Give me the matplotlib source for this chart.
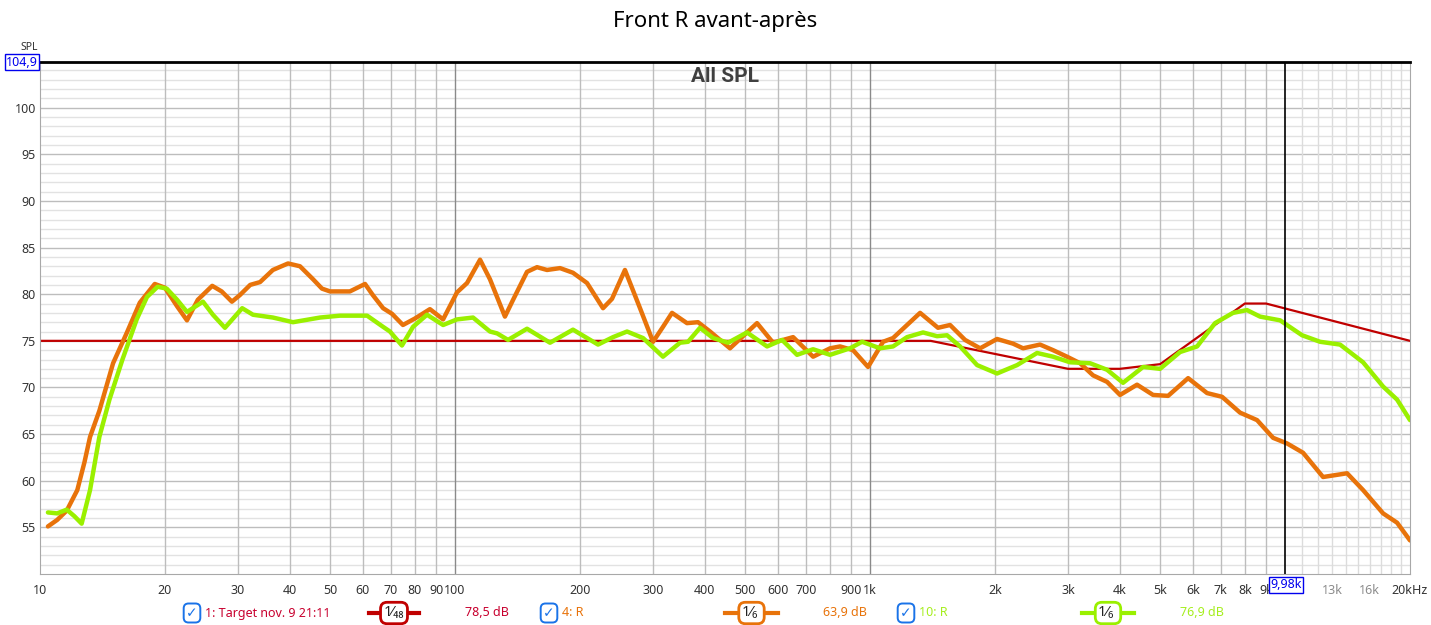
import matplotlib
matplotlib.use("Agg")
import matplotlib.pyplot as plt
from matplotlib.lines import Line2D

plt.rcParams['font.family'] = ['Noto Sans', 'DejaVu Sans']

# target curve (breakpoints)
target_freq = [10, 1400, 3000, 4000, 5000, 8000, 9000, 20000]
target_db = [75, 75, 72, 72, 72.5, 79, 79, 75]

# "4: R" (before) 1/6 oct smoothed
before_freq = [10.45, 11.0, 11.6, 12.3, 12.8, 13.2, 13.9, 15.0, 16.2, 17.4, 18.9, 20.0, 21.4,
               22.6, 24.0, 26.0, 27.4, 29.0, 30.3, 32.1, 33.9, 36.4, 39.6, 42.3, 45.5,
               47.8, 50.0, 55.8, 60.7, 63.4, 67.1, 70.5, 74.9, 80.1, 87.0, 93.6, 101.1,
               106.9, 114.9, 121.4, 131.9, 138.0, 149.1, 157.6, 166.6, 179.1, 192.4, 208.0,
               227.3, 238.9, 256.7, 279.1, 300.0, 317.0, 333.3, 362.2, 385.0, 411.6, 459.8,
               505.2, 534.2, 583.9, 652.6, 729.1, 801.2, 846.8, 910.2, 989.0, 1075, 1136,
               1228, 1320, 1458, 1559, 1694, 1842, 2023, 2211, 2337, 2568, 2761, 2983, 3207,
               3446, 3725, 4003, 4399, 4808, 5226, 5840, 6487, 7050, 7791, 8562, 9357,
               10111, 11050, 12346, 14108, 15417, 17226, 18617, 20000]
before_db = [55.1, 55.8, 56.8, 59.0, 62.0, 64.7, 67.5, 72.6, 75.9, 79.1, 81.1, 80.7, 78.7,
             77.2, 79.4, 80.9, 80.3, 79.2, 79.9, 81.0, 81.3, 82.6, 83.3, 83.0, 81.6,
             80.6, 80.3, 80.3, 81.1, 79.9, 78.5, 77.9, 76.7, 77.4, 78.4, 77.3, 80.2,
             81.2, 83.7, 81.6, 77.6, 79.4, 82.4, 82.9, 82.6, 82.8, 82.3, 81.2,
             78.5, 79.5, 82.6, 78.5, 74.9, 76.5, 78.0, 76.9, 77.0, 76.0, 74.2,
             75.9, 76.9, 74.8, 75.4, 73.3, 74.2, 74.4, 74.0, 72.2, 74.9, 75.3,
             76.7, 78.0, 76.4, 76.7, 75.1, 74.2, 75.2, 74.7, 74.2, 74.6, 74.0, 73.3, 72.6,
             71.3, 70.6, 69.2, 70.3, 69.2, 69.1, 71.0, 69.4, 69.0, 67.3, 66.5, 64.6,
             64.0, 63.0, 60.4, 60.8, 59.0, 56.5, 55.5, 53.6]

# "10: R" (after)
after_freq = [10.45, 11.0, 11.6, 12.1, 12.6, 13.2, 13.9, 14.7, 15.8, 17.1, 18.1, 19.2,
              20.2, 21.4, 22.6, 24.7, 26.1, 27.9, 30.7, 32.6, 36.4, 40.7, 47.3, 52.8,
              61.4, 67.1, 69.7, 74.5, 79.2, 85.6, 93.6, 101.1, 110.5, 121.4, 126.3, 134.2,
              149.1, 169.4, 192.4, 221.1, 240.3, 259.7, 283.8, 317.0, 348.5, 364.3, 389.3,
              418.5, 454.9, 505.2, 564.8, 613.8, 666.9, 729.1, 801.2, 894.7, 956.6, 1057,
              1136, 1228, 1342, 1450, 1533, 1648, 1811, 2023, 2261, 2526, 2761, 3034, 3389,
              3725, 4070, 4549, 4998, 5584, 6138, 6781, 7492, 8095, 8704, 9727, 10989,
              12144, 13568, 15417, 17226, 18617, 20000]
after_db = [56.6, 56.5, 56.9, 56.2, 55.4, 59.0, 64.7, 68.7, 73.0, 77.3, 79.7, 80.8,
            80.6, 79.4, 78.1, 79.2, 77.8, 76.4, 78.5, 77.8, 77.5, 77.0, 77.5, 77.7,
            77.7, 76.5, 76.0, 74.5, 76.5, 77.8, 76.7, 77.3, 77.5, 76.0, 75.8, 75.1,
            76.3, 74.8, 76.2, 74.6, 75.4, 76.0, 75.3, 73.3, 74.8, 74.9, 76.4,
            75.3, 74.8, 75.9, 74.4, 75.1, 73.5, 74.1, 73.5, 74.2, 74.9, 74.2,
            74.4, 75.4, 75.9, 75.5, 75.6, 74.4, 72.4, 71.5, 72.4, 73.7, 73.3, 72.7, 72.6,
            71.9, 70.5, 72.2, 72.0, 73.8, 74.4, 76.9, 78.0, 78.3, 77.6, 77.2, 75.6,
            74.9, 74.6, 72.7, 70.1, 68.7, 66.5]

cursor_freq = 9980
x_ticks = [10, 20, 30, 40, 50, 60, 70, 80, 90, 100, 200, 300, 400, 500, 600, 700, 900,
           1000, 2000, 3000, 4000, 5000, 6000, 7000, 8000, 9000, 13000, 16000, 20000]
x_labels = ['10', '20', '30', '40', '50', '60', '70', '80', '90', '100', '200', '300',
            '400', '500', '600', '700', '900', '1k', '2k', '3k', '4k', '5k', '6k', '7k',
            '8k', '9k', '13k', '16k', '20kHz']
y_ticks = [55, 60, 65, 70, 75, 80, 85, 90, 95, 100]

C_RED = '#c00000'
C_ORANGE = '#e8730a'
C_LIME = '#9af000'

W, H = 1431, 625
def fx(x): return x / W
def fy(y): return 1 - y / H

fig = plt.figure(figsize=(W / 100, H / 100), dpi=100)
ax = fig.add_axes([fx(40), fy(574), 1370 / W, 512 / H])
ax.set_xscale('log')
ax.set_xlim(10, 20000)
ax.set_ylim(50, 104.9)

# grid
for db in range(51, 105):
    ax.axhline(db, color='#bdbdbd' if db % 5 == 0 else '#e2e2e2', lw=1, zorder=0)
for dec in [10, 100, 1000]:
    for m in range(2, 10):
        ax.axvline(dec * m, color='#bdbdbd', lw=1, zorder=0)
for f in [100, 1000]:
    ax.axvline(f, color='#8a8a8a', lw=1, zorder=0.5)
for k in range(11, 20):
    ax.axvline(k * 1000, color='#dcdcdc', lw=1, zorder=0)

ax.plot(target_freq, target_db, color=C_RED, lw=1.6, zorder=2)
ax.plot(before_freq, before_db, color=C_ORANGE, lw=3.2, zorder=3,
        solid_joinstyle='round', solid_capstyle='round')
ax.plot(after_freq, after_db, color=C_LIME, lw=3.2, zorder=4,
        solid_joinstyle='round', solid_capstyle='round')
ax.axvline(cursor_freq, color='black', lw=1.2, zorder=5)

ax.set_xticks(x_ticks)
ax.set_xticklabels(x_labels)
ax.minorticks_off()
ax.set_yticks(y_ticks)
ax.tick_params(length=0, labelsize=9, labelcolor='#333333')
ax.tick_params(axis='x', pad=7)
ax.tick_params(axis='y', pad=3)
for lab in ax.get_xticklabels():
    if lab.get_text() in ('13k', '16k'):
        lab.set_color('#8c8c8c')

for s in ['left', 'right', 'bottom']:
    ax.spines[s].set_color('#a8a8a8')
ax.spines['top'].set_color('black')
ax.spines['top'].set_linewidth(2)

fig.text(0.5, fy(22), 'Front R avant-après', ha='center', va='center', fontsize=16)
fig.text(fx(725), fy(76), 'All SPL', ha='center', va='center', fontsize=15,
         fontweight='bold', color='#404040', family=['Roboto', 'DejaVu Sans'])
fig.text(fx(29), fy(47), 'SPL', ha='center', va='center', fontsize=7.5, color='#333333')
fig.text(fx(22), fy(62), '104,9', ha='center', va='center', fontsize=9, color='#0000ee',
         bbox=dict(boxstyle='square,pad=0.12', fc='white', ec='#0000ee', lw=1))
fig.text(fx(1286), fy(585), '9,98k', ha='center', va='center', fontsize=9, color='#0000ee',
         bbox=dict(boxstyle='square,pad=0.12', fc='white', ec='#0000ee', lw=1), zorder=10)

# legend row
ly = 613
def checkbox(x):
    fig.text(fx(x), fy(ly), '✓', ha='center', va='center', fontsize=10, color='#1a73e8',
             fontweight='bold', family=['DejaVu Sans'],
             bbox=dict(boxstyle='round,pad=0.18,rounding_size=0.35', fc='white',
                       ec='#1a73e8', lw=1.4))

def sample(x0, x1, color, label):
    fig.add_artist(Line2D([fx(x0), fx(x1)], [fy(ly), fy(ly)], color=color, lw=3,
                          transform=fig.transFigure))
    fig.text(fx((x0 + x1) / 2), fy(ly), label, ha='center', va='center', fontsize=10.5,
             color='#222222',
             bbox=dict(boxstyle='round,pad=0.22,rounding_size=0.45', fc='white',
                       ec=color, lw=2))

checkbox(192)
fig.text(fx(205), fy(ly), '1: Target nov. 9 21:11', ha='left', va='center',
         fontsize=9, color='#c8002e')
sample(369, 419, C_RED, '1⁄₄₈')
fig.text(fx(465), fy(ly), '78,5 dB', ha='left', va='center', fontsize=9, color='#c8002e')

checkbox(549)
fig.text(fx(562), fy(ly), '4: R', ha='left', va='center', fontsize=9, color=C_ORANGE)
sample(725, 778, C_ORANGE, '1⁄₆ ')
fig.text(fx(823), fy(ly), '63,9 dB', ha='left', va='center', fontsize=9, color=C_ORANGE)

checkbox(906)
fig.text(fx(919), fy(ly), '10: R', ha='left', va='center', fontsize=9, color='#a6ee1e')
sample(1082, 1134, C_LIME, '1⁄₆ ')
fig.text(fx(1180), fy(ly), '76,9 dB', ha='left', va='center', fontsize=9, color='#a6ee1e')

fig.savefig('out.png', dpi=100)
